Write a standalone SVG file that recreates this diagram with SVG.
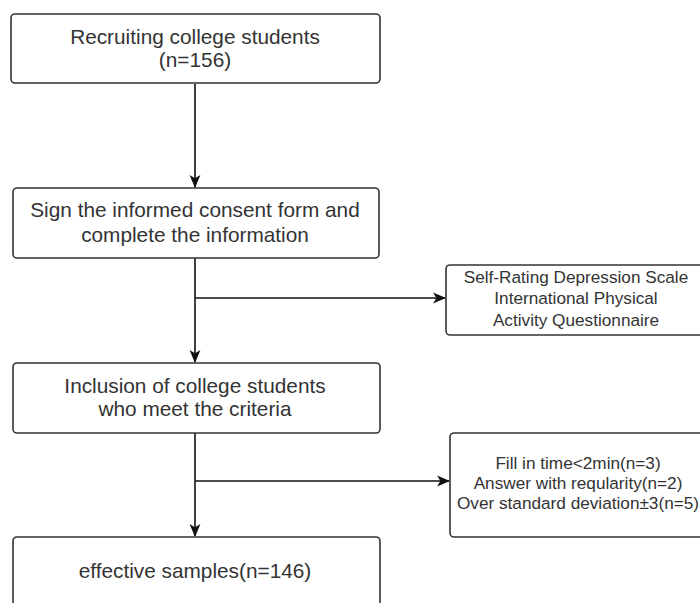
<svg xmlns="http://www.w3.org/2000/svg" width="700" height="603" viewBox="0 0 700 603">
<style>
.box{fill:#fff;stroke:#333;stroke-width:1.6}
.t{font-family:"Liberation Sans",Arial,sans-serif;fill:#333;text-anchor:middle}
.big{font-size:20.8px}
.sm{font-size:17.2px}
.c{stroke:#111;stroke-width:1.6;fill:none}
</style>
<defs>
<marker id="ah" viewBox="0 0 12 12" refX="11" refY="6" markerWidth="13" markerHeight="13" markerUnits="userSpaceOnUse" orient="auto">
<path d="M0,1 L12,6 L0,11 L3,6 Z" fill="#111"/>
</marker>
</defs>
<rect width="700" height="603" fill="#fff"/>
<g id="connectors">
<line class="c" x1="195" y1="84" x2="195" y2="187" marker-end="url(#ah)"/>
<line class="c" x1="195" y1="258" x2="195" y2="362" marker-end="url(#ah)"/>
<line class="c" x1="195" y1="298" x2="445" y2="298" marker-end="url(#ah)"/>
<line class="c" x1="195" y1="433" x2="195" y2="536" marker-end="url(#ah)"/>
<line class="c" x1="195" y1="481" x2="449" y2="481" marker-end="url(#ah)"/>
</g>
<g id="n1">
<rect class="box" x="11" y="14" width="369" height="69" rx="4"/>
<text class="t big" x="195" y="44">Recruiting college students</text>
<text class="t big" x="195" y="67">(n=156)</text>
</g>
<g id="n2">
<rect class="box" x="13" y="188" width="366" height="70" rx="4"/>
<text class="t big" x="195" y="217">Sign the informed consent form and</text>
<text class="t big" x="195" y="242">complete the information</text>
</g>
<g id="n3">
<rect class="box" x="446" y="265" width="264" height="70" rx="4"/>
<text class="t sm" x="576" y="283">Self-Rating Depression Scale</text>
<text class="t sm" x="576" y="304">International Physical</text>
<text class="t sm" x="576" y="326">Activity Questionnaire</text>
</g>
<g id="n4">
<rect class="box" x="450" y="433" width="264" height="104" rx="4"/>
<text class="t sm" x="578" y="469">Fill in time&lt;2min(n=3)</text>
<text class="t sm" x="578" y="489">Answer with reqularity(n=2)</text>
<text class="t sm" x="578" y="509">Over standard deviation±3(n=5)</text>
</g>
<g id="n5">
<rect class="box" x="13" y="363" width="367" height="70" rx="4"/>
<text class="t big" x="195" y="393">Inclusion of college students</text>
<text class="t big" x="195" y="416">who meet the criteria</text>
</g>
<g id="n6">
<rect class="box" x="13" y="537" width="367" height="80" rx="4"/>
<text class="t big" x="195" y="578">effective samples(n=146)</text>
</g>
</svg>
